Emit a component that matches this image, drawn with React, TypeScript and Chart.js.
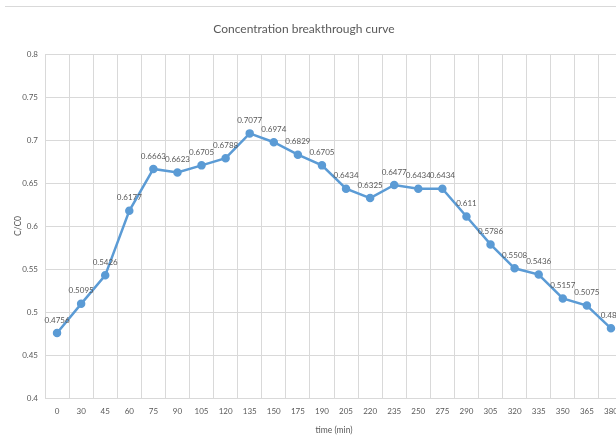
import React, { useEffect, useRef } from "react";
import { Chart, registerables } from "chart.js";

Chart.register(...registerables);

const categories: string[] = [
  "0", "30", "45", "60", "75", "90", "105", "120", "135", "150", "175", "190",
  "205", "220", "235", "250", "275", "290", "305", "320", "335", "350", "365", "380",
];

const values: number[] = [
  0.4756, 0.5095, 0.5426, 0.6177, 0.6663, 0.6623, 0.6705, 0.6788, 0.7077, 0.6974,
  0.6829, 0.6705, 0.6434, 0.6325, 0.6477, 0.6434, 0.6434, 0.611, 0.5786, 0.5508,
  0.5436, 0.5157, 0.5075, 0.481,
];

const yMin = 0.4;
const yMax = 0.8;
const yStep = 0.05;

const titleText = "Concentration breakthrough curve";
const xTitleText = "time (min)";
const yTitleText = "C/C0";

const FONT = "Lato, 'Liberation Sans', sans-serif";
const TEXT = "#595959";
const GRID = "#D9D9D9";
const BLUE = "#5B9BD5";

const textPlugin = {
  id: "customText",
  afterDatasetsDraw(chart: any) {
    const ctx = chart.ctx;
    const area = chart.chartArea;
    ctx.save();
    // data labels
    const meta = chart.getDatasetMeta(0);
    ctx.font = `8px ${FONT}`;
    ctx.fillStyle = TEXT;
    ctx.textAlign = "center";
    ctx.textBaseline = "middle";
    meta.data.forEach((el: any, i: number) => {
      ctx.fillText(String(values[i]), el.x, el.y - 13);
    });
    // main title
    ctx.font = `12px ${FONT}`;
    ctx.fillStyle = TEXT;
    ctx.fillText(titleText, 304, 29);
    // x title
    ctx.font = `8.5px ${FONT}`;
    ctx.fillText(xTitleText, (area.left + area.right) / 2, area.bottom + 32);
    // y title
    ctx.translate(18, (area.top + area.bottom) / 2);
    ctx.rotate(-Math.PI / 2);
    ctx.fillText(yTitleText, 0, 0);
    ctx.restore();
  },
};

export default function App() {
  const ref = useRef<HTMLCanvasElement | null>(null);
  useEffect(() => {
    if (!ref.current) return;
    const chart = new Chart(ref.current, {
      type: "line",
      data: {
        labels: categories,
        datasets: [
          {
            data: values,
            borderColor: BLUE,
            backgroundColor: BLUE,
            borderWidth: 2.5,
            pointRadius: 3,
            pointBackgroundColor: BLUE,
            pointBorderColor: BLUE,
            tension: 0,
          },
        ],
      },
      options: {
        responsive: false,
        animation: false,
        layout: { padding: { top: 54, right: 9, left: 0, bottom: 0 } },
        plugins: {
          legend: { display: false },
          title: { display: false },
          tooltip: { enabled: false },
        },
        scales: {
          x: {
            type: "category",
            offset: true,
            grid: { color: GRID, offset: true, drawTicks: false, lineWidth: 1 },
            border: { color: GRID },
            ticks: {
              color: TEXT,
              font: { family: FONT, size: 8 },
              padding: 9,
              maxRotation: 0,
              autoSkip: false,
            },
            afterFit: (s: any) => {
              s.height = 38;
            },
          },
          y: {
            min: yMin,
            max: yMax,
            grid: { color: GRID, drawTicks: false, lineWidth: 1 },
            border: { color: GRID },
            ticks: {
              stepSize: yStep,
              color: TEXT,
              font: { family: FONT, size: 8 },
              padding: 7,
              callback: (v: any) => String(Math.round(Number(v) * 100) / 100),
            },
            afterFit: (s: any) => {
              s.width = 45;
            },
          },
        },
      },
      plugins: [textPlugin],
    });
    return () => chart.destroy();
  }, []);

  return (
    <div
      style={{
        position: "fixed",
        left: 0,
        top: 0,
        width: 616,
        height: 436,
        overflow: "hidden",
        background: "#ffffff",
      }}
    >
      <div
        style={{
          position: "absolute",
          left: 5,
          right: 0,
          top: 6,
          height: 0,
          borderTop: `1px solid ${GRID}`,
        }}
      />
      <canvas
        ref={ref}
        width={632}
        height={436}
        style={{ position: "absolute", left: 0, top: 0, width: 632, height: 436 }}
      />
    </div>
  );
}
